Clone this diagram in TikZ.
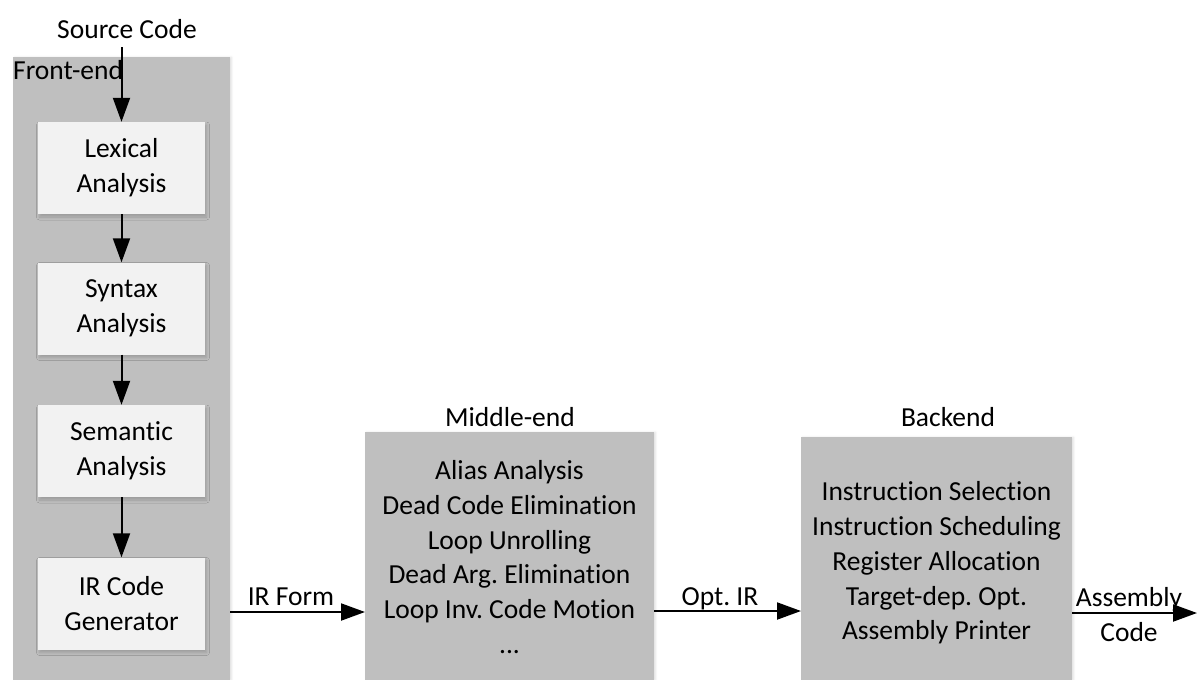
\documentclass[tikz,border=0pt]{standalone}
\usepackage{fontspec}
\setmainfont{Carlito}[Ligatures=NoCommon]
\usetikzlibrary{arrows.meta,shadows.blur}
\definecolor{stagegray}{HTML}{BFBFBF}
\definecolor{passgray}{HTML}{F2F2F2}
\frenchspacing
\begin{document}
\begin{tikzpicture}[x=1pt,y=-1pt,
  font=\fontsize{27.5}{34.7}\selectfont,
  stage/.style={fill=stagegray, draw=none, inner sep=0pt,
    blur shadow={shadow xshift=1.5pt, shadow yshift=0pt, shadow blur radius=2pt, shadow opacity=12}},
  pass/.style={fill=passgray, draw=none, minimum width=167pt, minimum height=92pt,
    inner sep=0pt, align=center,
    blur shadow={shadow xshift=1.5pt, shadow yshift=-3pt, shadow blur radius=3pt, shadow opacity=18}},
  lbl/.style={inner sep=0pt},
  arr/.style={line width=2pt, -{Triangle[length=24pt,width=17pt]}}]
\useasboundingbox (0,0) rectangle (1197,680);

% stage containers
\node[stage, minimum width=217pt, minimum height=623pt, anchor=north west] (fe) at (13,57) {};
\node[stage, minimum width=289pt, minimum height=248pt, anchor=north west] (mid) at (365,432) {};
\node[stage, minimum width=271pt, minimum height=243pt, anchor=north west] (back) at (801,437) {};

% stage titles
\node[lbl, anchor=base west] (fetitle) at (13,79) {Front-end};
\node[lbl, anchor=base] (midtitle) at (510,426) {Middle-end};
\node[lbl, anchor=base] (backtitle) at (948,426) {Backend};
\node[lbl, anchor=base] (src) at (127,38) {Source Code};

% front-end passes
\node[pass] (lex) at (121.5,168) {Lexical\\Analysis};
\node[pass] (syn) at (121.5,308.5) {Syntax\\Analysis};
\node[pass] (sem) at (121.5,451) {Semantic\\Analysis};
\node[pass] (gen) at (121.5,603.5) {IR Code\\Generator};

% pass lists
\node[lbl, align=center] (midlist) at (509.5,557) {Alias Analysis\\Dead Code Elimination\\Loop Unrolling\\Dead Arg. Elimination\\Loop Inv. Code Motion\\...};
\node[lbl, align=center] (backlist) at (936.5,563) {Instruction Selection\\Instruction Scheduling\\Register Allocation\\Target-dep. Opt.\\Assembly Printer};

% flow inside the front-end
\draw[arr] (src.south -| lex.north) ++(0,9) -- (lex.north);
\draw[arr] (lex) -- (syn);
\draw[arr] (syn) -- (sem);
\draw[arr] (sem) -- (gen);

% flow between stages
\coordinate (yir) at (0,612);
\coordinate (yopt) at (0,611);
\coordinate (out) at (1197,613);
\draw[arr] (fe.east |- yir) -- (mid.west |- yir);
\draw[arr] (mid.east |- yopt) -- (back.west |- yopt);
\draw[arr] (back.east |- out) -- (out);

% connector labels
\node[lbl, anchor=base] (irform) at (291,605) {IR Form};
\node[lbl, anchor=base] (optir) at (720,605) {Opt. IR};
\node[lbl, align=center] (asm) at (1129,614.5) {Assembly\\Code};
\end{tikzpicture}
\end{document}
